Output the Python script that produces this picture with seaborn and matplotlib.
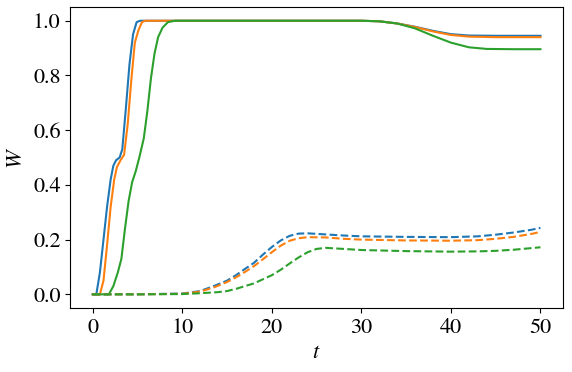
import matplotlib
matplotlib.use("Agg")
import matplotlib.pyplot as plt
import seaborn as sns

# values
t_blue = [0, 0.4, 0.8, 1.2, 1.6, 2.0, 2.3, 2.6, 3.0, 3.3, 3.7, 4.1, 4.5, 4.9, 5.3,
          10, 20, 30, 32, 34, 36, 38, 40, 42, 45, 50]
w_blue = [0, 0, 0.08, 0.2, 0.32, 0.42, 0.47, 0.49, 0.5, 0.53, 0.68, 0.84, 0.95, 0.995, 1.0,
          1.0, 1.0, 1.0, 0.998, 0.99, 0.978, 0.963, 0.951, 0.946, 0.945, 0.945]

t_orange = [0, 0.8, 1.2, 1.6, 2.0, 2.4, 2.7, 3.1, 3.5, 3.9, 4.3, 4.7, 5.1, 5.5, 5.9,
            10, 20, 30, 32, 34, 36, 38, 40, 42, 45, 50]
w_orange = [0, 0, 0.05, 0.18, 0.32, 0.42, 0.465, 0.49, 0.51, 0.62, 0.78, 0.92, 0.965, 0.995, 1.0,
            1.0, 1.0, 1.0, 0.998, 0.99, 0.977, 0.961, 0.948, 0.942, 0.94, 0.94]

t_green = [0, 1.8, 2.3, 2.8, 3.2, 3.6, 4.0, 4.4, 4.8, 5.2, 5.7, 6.1, 6.5, 6.9, 7.3, 7.8, 8.4, 9.2,
           20, 30, 32, 34, 36, 38, 40, 42, 44, 47, 50]
w_green = [0, 0, 0.03, 0.08, 0.13, 0.24, 0.34, 0.41, 0.45, 0.5, 0.57, 0.67, 0.79, 0.88, 0.94, 0.975, 0.995, 1.0,
           1.0, 1.0, 0.998, 0.99, 0.972, 0.945, 0.92, 0.903, 0.897, 0.896, 0.896]

t_dash = [0, 5, 10, 12, 13.5, 15, 16, 17, 18, 19, 20, 21, 22, 23, 24, 26, 28, 30, 35, 40, 43, 45, 47, 49, 50]
d_blue = [0, 0, 0.003, 0.012, 0.03, 0.05, 0.07, 0.093, 0.115, 0.145, 0.173, 0.197, 0.214, 0.222, 0.223,
          0.219, 0.215, 0.212, 0.21, 0.209, 0.212, 0.218, 0.226, 0.236, 0.243]
d_orange = [0, 0, 0.002, 0.01, 0.025, 0.045, 0.062, 0.082, 0.103, 0.128, 0.154, 0.178, 0.196, 0.205, 0.209,
            0.208, 0.203, 0.2, 0.197, 0.196, 0.198, 0.203, 0.21, 0.221, 0.228]

t_dash_g = [0, 5, 10, 12, 14, 15, 16, 17, 18, 19, 20, 21, 22, 23, 24, 25, 26, 28, 30, 35, 40, 43, 45, 47, 49, 50]
d_green = [0, 0, 0.001, 0.004, 0.008, 0.012, 0.02, 0.03, 0.04, 0.055, 0.07, 0.09, 0.113, 0.135, 0.154,
           0.166, 0.17, 0.166, 0.162, 0.158, 0.156, 0.157, 0.159, 0.163, 0.169, 0.172]

plt.rcParams['font.family'] = 'STIXGeneral'
plt.rcParams['mathtext.fontset'] = 'stix'
plt.rcParams['font.size'] = 16

fig, ax = plt.subplots(figsize=(5.72, 3.72), dpi=100)
cols = sns.color_palette('tab10')

sns.lineplot(x=t_blue, y=w_blue, color=cols[0], ax=ax, sort=False)
sns.lineplot(x=t_orange, y=w_orange, color=cols[1], ax=ax, sort=False)
sns.lineplot(x=t_green, y=w_green, color=cols[2], ax=ax, sort=False)
sns.lineplot(x=t_dash, y=d_blue, color=cols[0], ax=ax, sort=False, linestyle='--')
sns.lineplot(x=t_dash, y=d_orange, color=cols[1], ax=ax, sort=False, linestyle='--')
sns.lineplot(x=t_dash_g, y=d_green, color=cols[2], ax=ax, sort=False, linestyle='--')

ax.set_xlabel('$t$')
ax.set_ylabel('$W$')
ax.set_xticks([0, 10, 20, 30, 40, 50])
ax.set_yticks([0.0, 0.2, 0.4, 0.6, 0.8, 1.0])

plt.subplots_adjust(left=0.123, right=0.984, bottom=0.172, top=0.981)
plt.savefig('out.png')
